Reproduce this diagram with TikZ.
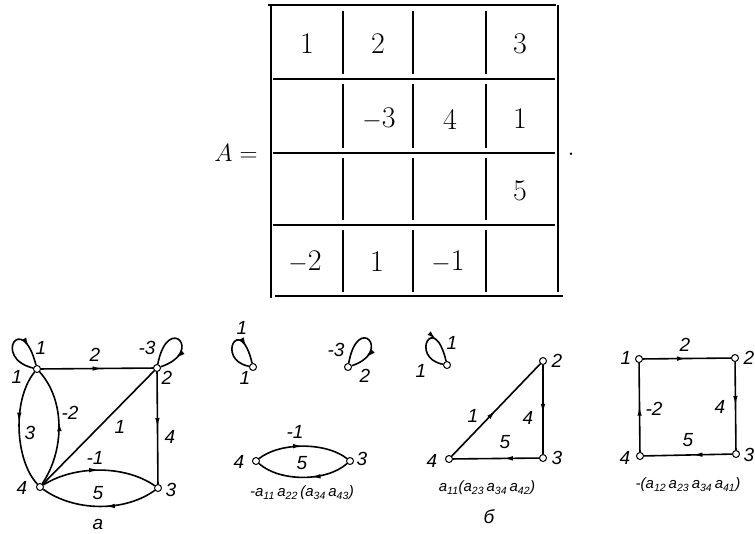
\documentclass[tikz,border=0pt]{standalone}
\usepackage{fontspec}
\usetikzlibrary{arrows.meta,decorations.markings}
\newfontfamily\gfont{Liberation Sans}
\tikzset{
 vtx/.style={circle,draw,fill=white,inner sep=0pt,minimum size=7pt,line width=1pt},
 ed/.style={line width=1.6pt},
 marr/.style={postaction={decorate},decoration={markings,mark=at position #1 with {\arrow{Latex[length=10pt,width=4.5pt]}}}},
 lbl/.style={font=\gfont\itshape\fontsize{19}{21}\selectfont,inner sep=0pt},
 capt/.style={font=\gfont\itshape\fontsize{15}{17}\selectfont,inner sep=0pt},
 mcell/.style={font=\fontsize{30}{34}\selectfont,inner sep=0pt},
 mrule/.style={line width=1.8pt}
}
\begin{document}
\begin{tikzpicture}[x=1pt,y=-1pt]
\useasboundingbox[fill=white] (0,0) rectangle (755,533);
% ---------- matrix ----------
\node[mcell] (Aeq) at (236,153) {$A=$};
\node[mcell] (dot) at (571,154) {.};
\draw[mrule] (271,5) -- (271,298);
\draw[mrule] (558,5) -- (558,292);
\draw[mrule] (268,5) -- (556,5);
\draw[mrule] (273,79) -- (555,79);
\draw[mrule] (273,153) -- (555,153);
\draw[mrule] (273,225) -- (555,225);
\draw[mrule] (275,296) -- (563,296);
\foreach \x in {343,413,486}{
  \draw[mrule] (\x,11) -- (\x,74);
  \draw[mrule] (\x,84) -- (\x,148);
  \draw[mrule] (\x,158) -- (\x,220);
  \draw[mrule] (\x,230) -- (\x,292);
}
\node[mcell] (m11) at (307,44) {1};
\node[mcell] (m12) at (378,44) {2};
\node[mcell] (m14) at (520,44) {3};
\node[mcell] (m22) at (379,119) {$-$3};
\node[mcell] (m23) at (450,119) {4};
\node[mcell] (m24) at (520,119) {1};
\node[mcell] (m34) at (520,191) {5};
\node[mcell] (m41) at (305,262) {$-$2};
\node[mcell] (m42) at (377,262) {1};
\node[mcell] (m43) at (448,262) {$-$1};
% ---------- graph a ----------
\node[vtx] (a1) at (37,369) {};
\node[vtx] (a2) at (157,368) {};
\node[vtx] (a3) at (158,488) {};
\node[vtx] (a4) at (40,487) {};
\draw[ed,marr=0.75] (a1) .. controls (-8,358) and (22,310) .. (a1);
\draw[ed,marr=0.78] (a2) .. controls (168,312) and (205,352) .. (a2);
\draw[ed,marr=0.55] (a1) -- (a2);
\draw[ed,marr=0.5] (a2) -- (a3);
\draw[ed] (a4) -- (a2);
\draw[ed,marr=0.45] (a1) .. controls (12,400) and (15,460) .. (a4);
\draw[ed,marr=0.55] (a4) .. controls (65,450) and (65,400) .. (a1);
\draw[ed,marr=0.5] (a4) .. controls (75,465) and (125,465) .. (a3);
\draw[ed,marr=0.45] (a3) .. controls (125,512) and (75,512) .. (a4);
\node[lbl] (la1) at (17,377) {1};
\node[lbl] (la2) at (167,378) {2};
\node[lbl] (la3) at (171,490) {3};
\node[lbl] (la4) at (22,488) {4};
\node[lbl] (wa11) at (41,348) {1};
\node[lbl] (wa22) at (147,348) {-3};
\node[lbl] (wa12) at (95,355) {2};
\node[lbl] (wa23) at (170,437) {4};
\node[lbl] (wa42) at (120,427) {1};
\node[lbl] (wa14) at (30,433) {3};
\node[lbl] (wa41) at (70,413) {-2};
\node[lbl] (wa43) at (95,458) {-1};
\node[lbl] (wa34) at (98,493) {5};
\node[lbl] (capa) at (98,524) {a};
% ---------- graph b: loops ----------
\node[vtx] (b1) at (253,367) {};
\draw[ed,marr=0.75] (b1) .. controls (215,360) and (240,312) .. (b1);
\node[lbl] (wb11) at (242,328) {1};
\node[lbl] (lb1) at (245,378) {1};
\node[vtx] (b2) at (348,367) {};
\draw[ed,marr=0.78] (b2) .. controls (358,312) and (393,352) .. (b2);
\node[lbl] (wb22) at (336,350) {-3};
\node[lbl] (lb2) at (365,376) {2};
% two-cycle
\node[vtx] (b4) at (256,461) {};
\node[vtx] (b3) at (350,461) {};
\draw[ed,marr=0.5] (b4) .. controls (280,442) and (326,442) .. (b3);
\draw[ed,marr=0.42] (b3) .. controls (326,482) and (280,482) .. (b4);
\node[lbl] (wb43) at (295,432) {-1};
\node[lbl] (wb34) at (302,463) {5};
\node[lbl] (lb4) at (239,462) {4};
\node[lbl] (lb3) at (362,459) {3};
\node[capt] (capb1) at (302,493) {-a\textsubscript{11}\,a\textsubscript{22}\,(a\textsubscript{34}\,a\textsubscript{43})};
% ---------- graph b: loop + triangle ----------
\node[vtx] (c1) at (447,365) {};
\draw[ed,marr=0.65] (c1) .. controls (409,358) and (434,310) .. (c1);
\node[lbl] (wc11) at (452,343) {1};
\node[lbl] (lc1) at (421,371) {1};
\node[vtx] (c2) at (543,361) {};
\node[vtx] (c3) at (543,458) {};
\node[vtx] (c4) at (449,459) {};
\draw[ed,marr=0.5] (c4) -- (c2);
\draw[ed,marr=0.55] (c2) -- (c3);
\draw[ed,marr=0.42] (c3) -- (c4);
\node[lbl] (wc42) at (473,416) {1};
\node[lbl] (wc23) at (528,418) {4};
\node[lbl] (wc34) at (505,442) {5};
\node[lbl] (lc2) at (557,361) {2};
\node[lbl] (lc3) at (557,458) {3};
\node[lbl] (lc4) at (432,461) {4};
\node[capt] (capb2) at (487,488) {a\textsubscript{11}(a\textsubscript{23}\,a\textsubscript{34}\,a\textsubscript{42})};
\node[lbl] (capb) at (489,517) {б};
% ---------- square ----------
\node[vtx] (d1) at (639,359) {};
\node[vtx] (d2) at (735,358) {};
\node[vtx] (d3) at (736,454) {};
\node[vtx] (d4) at (640,456) {};
\draw[ed,marr=0.5] (d1) -- (d2);
\draw[ed,marr=0.5] (d2) -- (d3);
\draw[ed,marr=0.45] (d3) -- (d4);
\draw[ed,marr=0.52] (d4) -- (d1);
\node[lbl] (wd12) at (685,345) {2};
\node[lbl] (wd23) at (720,407) {4};
\node[lbl] (wd34) at (688,440) {5};
\node[lbl] (wd41) at (654,409) {-2};
\node[lbl] (ld1) at (626,358) {1};
\node[lbl] (ld2) at (749,358) {2};
\node[lbl] (ld3) at (749,455) {3};
\node[lbl] (ld4) at (625,458) {4};
\node[capt] (capd) at (688,485) {-(a\textsubscript{12}\,a\textsubscript{23}\,a\textsubscript{34}\,a\textsubscript{41})};
\end{tikzpicture}
\end{document}
